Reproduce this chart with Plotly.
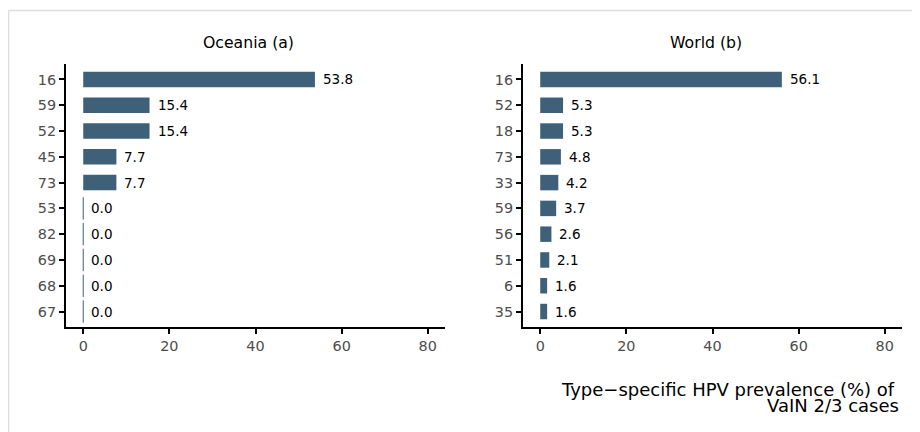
import plotly.graph_objects as go

# ---- data ----
oceania_types = ["16", "59", "52", "45", "73", "53", "82", "69", "68", "67"]
oceania_values = [53.8, 15.4, 15.4, 7.7, 7.7, 0.0, 0.0, 0.0, 0.0, 0.0]
world_types = ["16", "52", "18", "73", "33", "59", "56", "51", "6", "35"]
world_values = [56.1, 5.3, 5.3, 4.8, 4.2, 3.7, 2.6, 2.1, 1.6, 1.6]
panel_titles = ["Oceania (a)", "World (b)"]
x_tick_vals = [0, 20, 40, 60, 80]
x_title_lines = ["Type\u2212specific HPV prevalence (%) of", "VaIN 2/3 cases"]

# page body has an 8px margin; figure fills the rest of the 920x432 window
OFF = 8
W, H = 920 - OFF, 432 - OFF
BAR = "#3e6179"
FONT = "DejaVu Sans, Verdana, sans-serif"

def px_x(p):
    return (p - OFF) / W

def px_y(p):
    return 1 - (p - OFF) / H

fig = go.Figure()

panels = [
    (oceania_types, oceania_values, "x", "y"),
    (world_types, world_values, "x2", "y2"),
]

annotations = []
for i, (cats, vals, xa, ya) in enumerate(panels):
    fig.add_trace(go.Bar(
        x=vals, y=cats, orientation="h", xaxis=xa, yaxis=ya,
        marker=dict(color=BAR, line=dict(width=0)), width=0.6,
        showlegend=False, hoverinfo="x+y",
    ))
    zc = [c for c, v in zip(cats, vals) if v == 0]
    zv = [v for v in vals if v == 0]
    if zc:
        fig.add_trace(go.Scatter(
            x=zv, y=zc, mode="markers", xaxis=xa, yaxis=ya,
            marker=dict(symbol="line-ns", size=16, line=dict(width=1, color=BAR)),
            showlegend=False, hoverinfo="skip", cliponaxis=False,
        ))
    for k, v in enumerate(vals):
        annotations.append(dict(
            x=v, y=k, xref=xa, yref=ya, text=f"{v:.1f}", showarrow=False,
            xanchor="left", yanchor="middle", xshift=6,
            font=dict(family=FONT, size=13.5, color="black"),
        ))
    annotations.append(dict(
        x=px_x([248.3, 706][i]), y=px_y(42.5), xref="paper", yref="paper",
        text=panel_titles[i], showarrow=False, xanchor="center", yanchor="middle",
        font=dict(family=FONT, size=15.7, color="black"),
    ))

for j, line in enumerate(x_title_lines):
    annotations.append(dict(
        x=px_x([896.5, 901][j]), y=px_y([389.5, 405][j]), xref="paper", yref="paper",
        text=line, showarrow=False, xanchor="right", yanchor="middle",
        font=dict(family=FONT, size=18, color="black"),
    ))

xaxis_common = dict(
    range=[-4, 84], tickvals=x_tick_vals, showgrid=False, zeroline=False,
    showline=True, linecolor="black", linewidth=2, ticks="outside",
    ticklen=5, tickwidth=1.5, tickcolor="black", automargin=False,
    tickfont=dict(family=FONT, size=14.4, color="#4d4d4d"),
)
yaxis_common = dict(
    type="category", range=[9.6, -0.6], showgrid=False, zeroline=False,
    showline=True, linecolor="black", linewidth=2, ticks="outside",
    ticklen=5, tickwidth=1.5, tickcolor="black", automargin=False,
    tickfont=dict(family=FONT, size=14.4, color="#4d4d4d"),
)

ydom = [px_y(327), px_y(64)]
fig.update_layout(
    width=W, height=H, margin=dict(l=0, r=0, t=0, b=0, autoexpand=False),
    paper_bgcolor="white", plot_bgcolor="white",
    xaxis=dict(xaxis_common, domain=[px_x(66), px_x(445)], anchor="y"),
    yaxis=dict(yaxis_common, domain=ydom, anchor="x",
               categoryorder="array", categoryarray=oceania_types),
    xaxis2=dict(xaxis_common, domain=[px_x(523), px_x(902)], anchor="y2"),
    yaxis2=dict(yaxis_common, domain=ydom, anchor="x2",
                categoryorder="array", categoryarray=world_types),
    annotations=annotations,
    shapes=[
        dict(type="line", xref="paper", yref="paper",
             x0=px_x(8.5), x1=px_x(8.5), y0=0, y1=px_y(10.5),
             line=dict(color="#dddddd", width=1.5)),
        dict(type="line", xref="paper", yref="paper",
             x0=px_x(8.5), x1=1, y0=px_y(10.5), y1=px_y(10.5),
             line=dict(color="#dddddd", width=1.5)),
    ],
)

fig.write_html("out.html")
